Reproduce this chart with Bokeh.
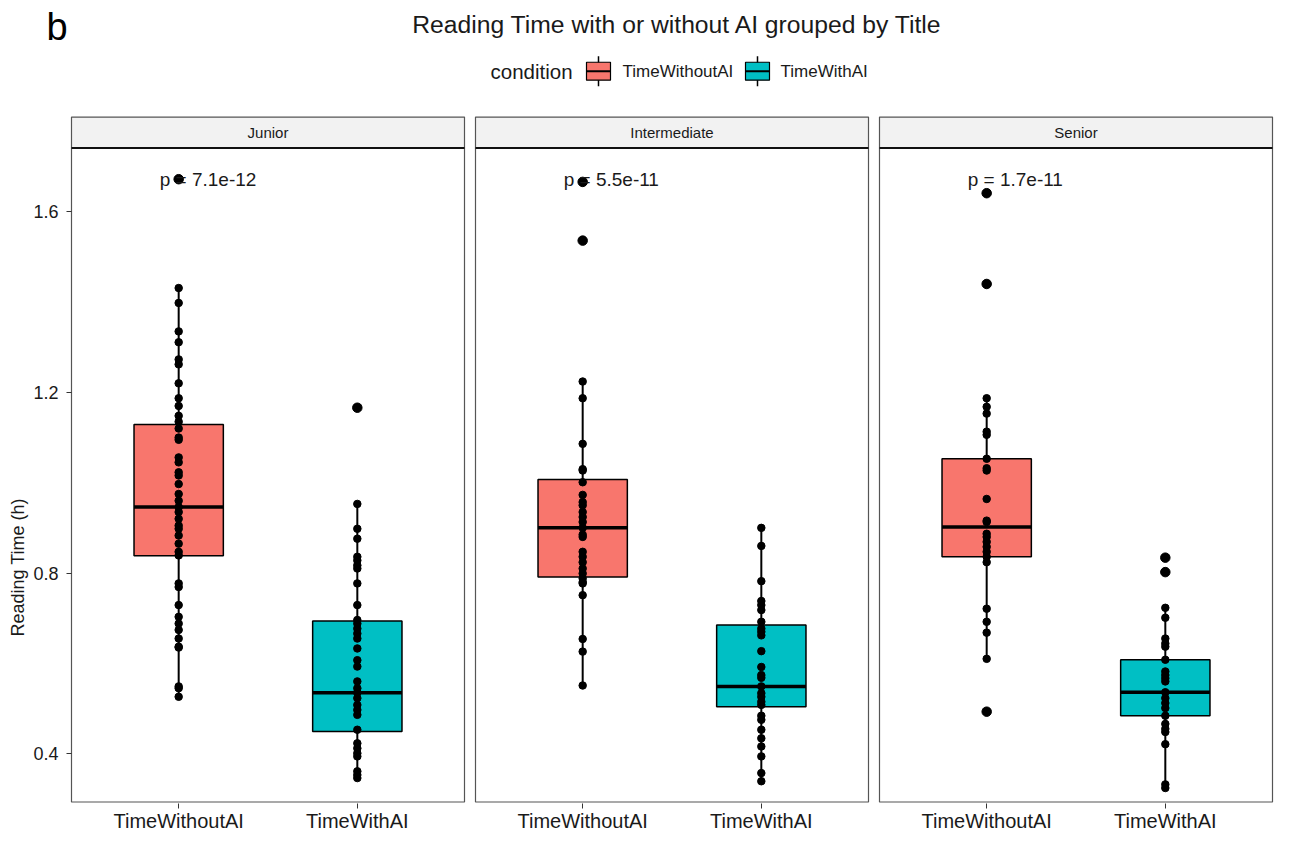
import math
from bokeh.plotting import figure
from bokeh.models import ColumnDataSource, FixedTicker, Range1d
from bokeh.core.properties import value
from bokeh.embed import file_html
from bokeh.resources import INLINE

# ---------------- data ----------------
panels = ["Junior", "Intermediate", "Senior"]
conditions = ["TimeWithoutAI", "TimeWithAI"]
p_labels = ["p = 7.1e-12", "p = 5.5e-11", "p = 1.7e-11"]
y_ticks = [0.4, 0.8, 1.2, 1.6]
colors = ["#F8766D", "#00BFC4"]

junior_without = [1.672, 1.431, 1.398, 1.335, 1.311, 1.273, 1.262, 1.220, 1.187, 1.170,
                  1.148, 1.135, 1.120, 1.100, 1.095, 1.056, 1.045, 1.023, 1.016, 0.997,
                  0.975, 0.960, 0.946, 0.935, 0.920, 0.905, 0.898, 0.883, 0.865, 0.847,
                  0.839, 0.777, 0.769, 0.729, 0.703, 0.688, 0.674, 0.655, 0.637, 0.635,
                  0.549, 0.545, 0.526]
junior_with = [1.166, 0.953, 0.898, 0.876, 0.836, 0.828, 0.817, 0.810, 0.777, 0.729,
               0.696, 0.688, 0.677, 0.666, 0.655, 0.633, 0.607, 0.593, 0.560, 0.545,
               0.535, 0.523, 0.508, 0.497, 0.486, 0.453, 0.423, 0.412, 0.401, 0.394,
               0.361, 0.353, 0.346]
intermediate_without = [1.666, 1.536, 1.224, 1.187, 1.086, 1.030, 1.027, 1.001, 0.973, 0.957,
                        0.950, 0.935, 0.924, 0.913, 0.900, 0.885, 0.880, 0.847, 0.836, 0.824,
                        0.810, 0.799, 0.788, 0.780, 0.777, 0.751, 0.654, 0.626, 0.551]
intermediate_with = [0.900, 0.860, 0.782, 0.738, 0.729, 0.718, 0.692, 0.677, 0.670, 0.662,
                     0.627, 0.592, 0.574, 0.568, 0.549, 0.534, 0.526, 0.515, 0.508, 0.484,
                     0.475, 0.453, 0.434, 0.416, 0.394, 0.357, 0.339]
senior_without = [1.641, 1.440, 1.187, 1.168, 1.153, 1.113, 1.106, 1.053, 1.032, 1.027,
                  0.964, 0.916, 0.913, 0.887, 0.880, 0.869, 0.858, 0.847, 0.836, 0.824,
                  0.721, 0.692, 0.668, 0.610, 0.493]
senior_with = [0.834, 0.802, 0.723, 0.701, 0.655, 0.644, 0.637, 0.608, 0.582, 0.574,
               0.567, 0.560, 0.536, 0.523, 0.512, 0.501, 0.484, 0.466, 0.455, 0.448,
               0.421, 0.332, 0.324]

# box statistics, order: Junior w/o, Junior with, Intermediate w/o, Intermediate with, Senior w/o, Senior with
box_q1 = [0.838, 0.449, 0.791, 0.504, 0.836, 0.484]
box_median = [0.946, 0.535, 0.900, 0.549, 0.902, 0.536]
box_q3 = [1.129, 0.694, 1.007, 0.685, 1.053, 0.608]
whisker_low = [0.526, 0.346, 0.551, 0.339, 0.610, 0.324]
whisker_high = [1.431, 0.953, 1.224, 0.900, 1.187, 0.723]

groups = [junior_without, junior_with, intermediate_without, intermediate_with,
          senior_without, senior_with]

# ---------------- layout helpers (canvas pixel -> data) ----------------
W, H = 1274, 834
BORDER_B = 28
P1_LEFT, P3_RIGHT, GAP_PX = 71.0, 1272.0, 11.0
KX = (P3_RIGHT - P1_LEFT - 2 * GAP_PX) / 6.6     # px per x unit
KY = (756.0 - 212.0) / 1.2                        # px per y unit
VIEW_LEFT, VIEW_RIGHT = 0.0, float(W)
VIEW_TOP, VIEW_BOTTOM = 0.0, float(H - BORDER_B)


def px2x(px):
    return 0.4 + (px - P1_LEFT) / KX


def px2y(py):
    return 1.6 - (py - 212.0) / KY


GAP = GAP_PX / KX
offsets = [i * (2.2 + GAP) for i in range(3)]
FONT = "Liberation Sans"
BOX_W = 0.5

p = figure(width=W, height=H, output_backend="svg", toolbar_location=None,
           x_range=Range1d(px2x(VIEW_LEFT), px2x(VIEW_RIGHT)),
           y_range=Range1d(px2y(VIEW_BOTTOM), px2y(VIEW_TOP)),
           min_border_left=0, min_border_right=0, min_border_top=0,
           min_border_bottom=BORDER_B)
p.outline_line_color = None
p.grid.visible = False
p.background_fill_color = "white"
p.border_fill_color = "white"

panel_top = px2y(148)
strip_top = px2y(117)
panel_bottom = px2y(VIEW_BOTTOM - 1.5)

# strips and panel frames
p.quad(left=[o + 0.4 for o in offsets], right=[o + 2.6 for o in offsets],
       bottom=[panel_top] * 3, top=[strip_top] * 3,
       fill_color="#F2F2F2", line_color="#555555", line_width=1.2)
p.quad(left=[o + 0.4 for o in offsets], right=[o + 2.6 for o in offsets],
       bottom=[panel_bottom] * 3, top=[panel_top] * 3,
       fill_color=None, line_color="#555555", line_width=1.2)
p.segment(x0=[o + 0.4 for o in offsets], x1=[o + 2.6 for o in offsets],
          y0=[panel_top] * 3, y1=[panel_top] * 3, line_color="#111111", line_width=2)
p.text(x=[o + 1.5 for o in offsets], y=[(panel_top + strip_top) / 2] * 3, text=panels,
       text_font=value(FONT), text_font_size="15px", text_color="#1a1a1a",
       text_align="center", text_baseline="middle")

# boxes
gx, gcol = [], []
for i in range(3):
    for j in range(2):
        gx.append(offsets[i] + j + 1)
        gcol.append(colors[j])
box_src = ColumnDataSource(dict(x=gx, left=[x - BOX_W / 2 for x in gx],
                                right=[x + BOX_W / 2 for x in gx],
                                q1=box_q1, q2=box_median, q3=box_q3,
                                lo=whisker_low, hi=whisker_high, color=gcol))
p.segment(x0="x", x1="x", y0="q3", y1="hi", source=box_src, line_color="black", line_width=2)
p.segment(x0="x", x1="x", y0="lo", y1="q1", source=box_src, line_color="black", line_width=2)
p.quad(left="left", right="right", bottom="q1", top="q3", source=box_src,
       fill_color="color", line_color="black", line_width=1.5)
p.segment(x0="left", x1="right", y0="q2", y1="q2", source=box_src,
          line_color="black", line_width=3.5)

# data points and outliers
px_, py_, ox, oy = [], [], [], []
for k, vals in enumerate(groups):
    for v in vals:
        px_.append(gx[k])
        py_.append(v)
        if v > whisker_high[k] or v < whisker_low[k]:
            ox.append(gx[k])
            oy.append(v)
p.scatter(x=ox, y=oy, size=9.5, fill_color="black", line_color="black")
p.scatter(x=px_, y=py_, size=7.5, fill_color="black", line_color="black")

# p-value labels
p.text(x=[o + 1 - 19 / KX for o in offsets], y=[px2y(180)] * 3, text=p_labels,
       text_font=value(FONT), text_font_size="19px", text_color="#1a1a1a",
       text_align="left", text_baseline="middle")

# title
p.text(x=[px2x(677)], y=[px2y(24)], text=["Reading Time with or without AI grouped by Title"],
       text_font=value(FONT), text_font_size="24.7px", text_color="#1a1a1a",
       text_align="center", text_baseline="middle")

# panel tag
p.text(x=[px2x(46)], y=[px2y(27)], text=["b"], text_font=value(FONT),
       text_font_size="38px", text_color="black", text_align="left", text_baseline="middle")

# y axis title
p.text(x=[px2x(17)], y=[px2y(569)], text=["Reading Time (h)"], text_font=value(FONT),
       text_font_size="18px", text_color="#1a1a1a", text_align="center",
       text_baseline="middle", angle=math.pi / 2)

# legend
p.text(x=[px2x(490)], y=[px2y(71)], text=["condition"], text_font=value(FONT),
       text_font_size="20.5px", text_color="#1a1a1a", text_align="left", text_baseline="middle")
key_left = [586, 745]
key_label_left = [622, 780]
kx = [px2x(k + 12) for k in key_left]
kl = [px2x(k) for k in key_left]
kr = [px2x(k + 24) for k in key_left]
p.segment(x0=kx, x1=kx, y0=[px2y(56)] * 2, y1=[px2y(86)] * 2, line_color="black", line_width=1.5)
p.quad(left=kl, right=kr, bottom=[px2y(80)] * 2, top=[px2y(62)] * 2,
       fill_color=colors, line_color="black", line_width=1.2)
p.segment(x0=kl, x1=kr, y0=[px2y(71)] * 2, y1=[px2y(71)] * 2, line_color="black", line_width=2)
p.text(x=[px2x(k) for k in key_label_left], y=[px2y(71)] * 2, text=conditions,
       text_font=value(FONT), text_font_size="17px", text_color="#1a1a1a",
       text_align="left", text_baseline="middle")

# axes
xt = []
xlab = {}
for i in range(3):
    for j in range(2):
        pos = offsets[i] + j + 1
        xt.append(pos)
        xlab[pos] = conditions[j]
p.xaxis.ticker = FixedTicker(ticks=xt)
p.xaxis.major_label_overrides = xlab
p.yaxis.ticker = FixedTicker(ticks=y_ticks)
p.yaxis.fixed_location = 0.4
for ax in (p.xaxis, p.yaxis):
    ax.axis_line_color = None
    ax.major_tick_in = 0
    ax.major_tick_out = 5
    ax.major_tick_line_color = "#333333"
    ax.minor_tick_line_color = None
    ax.major_label_text_font = FONT
    ax.major_label_text_color = "#1a1a1a"
p.xaxis.major_label_text_font_size = "20px"
p.xaxis.major_label_standoff = 1
p.yaxis.major_label_text_font_size = "18px"
p.yaxis.major_label_standoff = 8

open("out.html", "w").write(file_html(p, INLINE))
